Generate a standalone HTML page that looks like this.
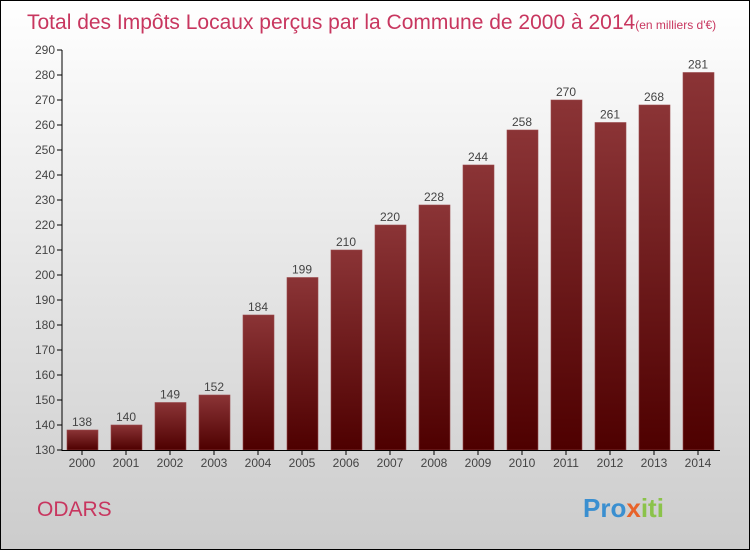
<!DOCTYPE html>
<html><head><meta charset="utf-8"><style>
body{margin:0}
#c{position:relative;width:748px;height:548px;border:1px solid #000;background:linear-gradient(#fff,#ccc);overflow:hidden;font-family:"Liberation Sans",sans-serif}
</style></head><body>
<div id="c">
<svg width="748" height="548" style="position:absolute;left:0;top:0" id="s">
<defs><linearGradient id="g" x1="0" y1="0" x2="0" y2="1"><stop offset="0" stop-color="#8b3436"/><stop offset="1" stop-color="#4e0000"/></linearGradient></defs>
<text x="26" y="28" font-size="21" fill="#c8365f">Total des Impôts Locaux perçus par la Commune de 2000 à 2014<tspan font-size="12">(en milliers d'€)</tspan></text>
<text x="36" y="515" font-size="21" fill="#c8365f">ODARS</text>
<text x="582" y="516" font-size="26" font-weight="bold" fill="#3a8fd0">Pro<tspan fill="#e8632a">x</tspan><tspan fill="#8bc34a">iti</tspan></text>
</svg>
</div>
<script>
const years=["2000","2001","2002","2003","2004","2005","2006","2007","2008","2009","2010","2011","2012","2013","2014"];
const values=[138,140,149,152,184,199,210,220,228,244,258,270,261,268,281];
const yTicks=[130,140,150,160,170,180,190,200,210,220,230,240,250,260,270,280,290];
const s=document.getElementById('s'),NS='http://www.w3.org/2000/svg';
const y=v=>449-(v-130)*2.5, x=i=>81+i*44;
function mk(t,a,txt){const e=document.createElementNS(NS,t);for(const k in a)e.setAttribute(k,a[k]);if(txt!=null)e.textContent=txt;s.appendChild(e);return e;}
yTicks.forEach(v=>{
const t=mk('line',{x1:56,x2:61,y1:y(v),y2:y(v),stroke:'#000'});


const l=mk('text',{x:54,y:y(v)+4,'font-size':12,fill:'#444','text-anchor':'end'},v);


});
values.forEach((v,i)=>{
const b=mk('rect',{x:x(i)-15,y:y(v),width:31,height:y(130)-y(v),fill:'url(#g)',stroke:'#9a4a4c','stroke-width':0.6});


const t=mk('text',{x:x(i),y:y(v)-4,'font-size':12,fill:'#444','text-anchor':'middle'},v);


const k=mk('line',{x1:x(i),x2:x(i),y1:449,y2:454,stroke:'#000'});


const l=mk('text',{x:x(i),y:466,'font-size':12,fill:'#444','text-anchor':'middle'},years[i]);


});
const ya=mk('line',{x1:61,x2:61,y1:y(290),y2:450,stroke:'#000'});


const xa=mk('line',{x1:61,x2:719,y1:449.5,y2:449.5,stroke:'#000'});


</script>
</body></html>
